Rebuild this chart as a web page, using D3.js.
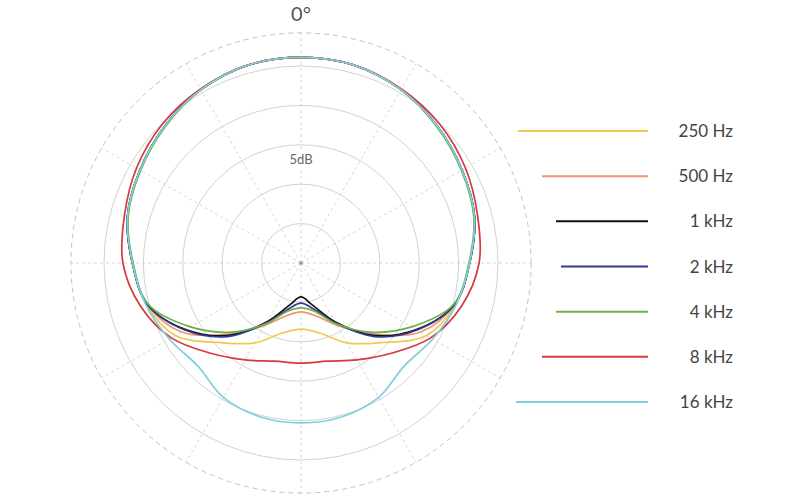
<!DOCTYPE html>
<html><head><meta charset="utf-8">
<script src="https://cdn.jsdelivr.net/npm/d3@7"></script>
<style>body{margin:0;background:#fff}</style>
</head><body><div id="chart"></div>
<script>
// polar response, dB relative to on-axis, half pattern (mirrored)
const angles = [0, 15, 30, 45, 60, 75, 90, 105, 120, 135, 150, 165, 180];
const labels = ['250 Hz', '500 Hz', '1 kHz', '2 kHz', '4 kHz', '8 kHz', '16 kHz'];
const colors = ['#f2c84e', '#f29470', '#111111', '#303c8e', '#6cb24a', '#d6383e', '#7fcfdc'];
const hz250 = [1.1, 1.0, 0.4, -0.5, -1.4, -2.2, -3.6, -4.7, -6.6, -10.7, -13.3, -15.8, -16.6];
const hz500 = [1.1, 1.0, 0.4, -0.5, -1.4, -2.2, -3.6, -4.8, -7.5, -12.3, -15.9, -18.1, -18.8];
const k1    = [1.1, 1.0, 0.4, -0.5, -1.4, -2.2, -3.6, -4.8, -8.1, -12.0, -16.4, -19.5, -20.7];
const k2    = [1.1, 1.0, 0.4, -0.5, -1.4, -2.2, -3.6, -4.8, -8.0, -11.8, -16.2, -19.0, -19.9];
const k4    = [1.1, 1.0, 0.4, -0.6, -1.5, -2.3, -3.7, -4.9, -8.8, -12.6, -16.1, -18.7, -19.3];
const k8    = [1.1, 1.0, 0.5, -0.1, -0.9, -1.8, -2.4, -3.9, -6.0, -8.8, -10.8, -12.1, -12.3];
const k16   = [1.1, 1.0, 0.4, -0.5, -1.4, -2.2, -3.6, -4.6, -5.7, -6.5, -5.3, -4.8, -4.7];
const series = [hz250, hz500, k1, k2, k4, k8, k16];
const rings = [-20, -15, -10, -5, 0];
const spokes = d3.range(0, 360, 30);

const width = 800, height = 500, cx = 301, cy = 263;
const svg = d3.select('#chart').append('svg').attr('width', width).attr('height', height);
const g = svg.append('g').attr('transform', `translate(${cx},${cy})`);

const r = d3.scaleLinear().domain([-25, 0]).range([0, 197]);
const outerR = r(4.2);

// grid
g.selectAll('circle.ring').data(rings).join('circle')
  .attr('r', d => r(d)).attr('fill', 'none').attr('stroke', '#d2d2d2').attr('stroke-width', 1);
g.append('circle').attr('r', outerR).attr('fill', 'none')
  .attr('stroke', '#c2c2c2').attr('stroke-dasharray', '5,4');
g.selectAll('line.spoke').data(spokes).join('line')
  .attr('x2', d => outerR * Math.sin(d * Math.PI / 180))
  .attr('y2', d => -outerR * Math.cos(d * Math.PI / 180))
  .attr('stroke', '#cccccc').attr('stroke-dasharray', '3,3').attr('stroke-width', 0.8);
g.append('circle').attr('r', 1.8).attr('fill', '#999');

// 5dB label
g.append('rect').attr('x', -17).attr('y', -113).attr('width', 34).attr('height', 18).attr('fill', '#fff');
g.append('text').attr('y', -99).attr('text-anchor', 'middle')
  .attr('font-family', 'Lato, sans-serif').attr('font-size', 13).attr('fill', '#666').text('5dB');

svg.append('text').attr('x', cx).attr('y', 21).attr('text-anchor', 'middle')
  .attr('font-family', 'Lato, sans-serif').attr('font-size', 20).attr('fill', '#555').text('0°');

// curves
const line = d3.lineRadial().curve(d3.curveCatmullRomClosed)
  .angle(d => d[0] * Math.PI / 180).radius(d => r(d[1]));
series.forEach((vals, i) => {
  const half = angles.map((a, j) => [a, vals[j]]);
  const mirror = angles.slice(1, -1).reverse().map(a => [360 - a, vals[angles.indexOf(a)]]);
  g.append('path').datum(half.concat(mirror))
    .attr('d', line).attr('fill', 'none').attr('stroke', colors[i]).attr('stroke-width', 1.7);
});

// legend
const legendY = d3.scalePoint().domain(labels).range([131, 402]);
const legendLen = [130, 106, 92, 87, 92, 106, 132];
const lg = svg.append('g');
labels.forEach((l, i) => {
  const y = legendY(l);
  lg.append('line').attr('x1', 648 - legendLen[i]).attr('x2', 648).attr('y1', y).attr('y2', y)
    .attr('stroke', colors[i]).attr('stroke-width', 2);
  lg.append('text').attr('x', 733).attr('y', y + 6).attr('text-anchor', 'end')
    .attr('font-family', 'Lato, sans-serif').attr('font-size', 17).attr('fill', '#444').text(l);
});
</script></body></html>
